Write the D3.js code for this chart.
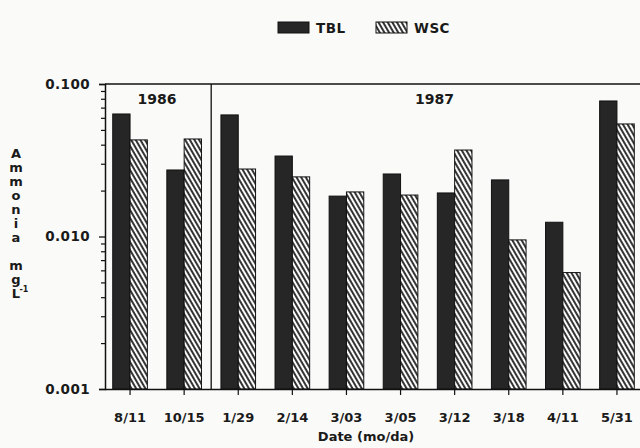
<!DOCTYPE html>
<html>
<head>
<meta charset="utf-8">
<script src="https://cdn.jsdelivr.net/npm/d3@7"></script>
<style>
  body { margin: 0; background: #fafaf8; }
  svg { display: block; }
  text { font-family: "DejaVu Sans", Verdana, sans-serif; font-weight: bold; fill: #1a1a1a; }
</style>
</head>
<body>
<svg id="chart" width="640" height="448"></svg>
<script>
// Sampling dates (mo/da) and the year each belongs to
const dates = ["8/11", "10/15", "1/29", "2/14", "3/03", "3/05", "3/12", "3/18", "4/11", "5/31"];
const years = ["1986", "1986", "1987", "1987", "1987", "1987", "1987", "1987", "1987", "1987"];
const seriesNames = ["TBL", "WSC"];
// Ammonia, mg per litre
const tblValues = [0.0636, 0.0273, 0.0627, 0.0337, 0.0184, 0.0257, 0.0193, 0.0235, 0.0124, 0.0774];
const wscValues = [0.0430, 0.0436, 0.0277, 0.0246, 0.0196, 0.0187, 0.0369, 0.0095, 0.0058, 0.0547];
const yTickValues = [0.001, 0.010, 0.100];
const yTitleLetters = ["A", "m", "m", "o", "n", "i", "a", "", "m", "g", "L"];

const svg = d3.select("#chart");
const margin = { left: 105, top: 84, bottom: 389, right: 644 };
const frameRight = 658;

const x = d3.scaleBand().domain(dates).range([103, margin.right])
  .paddingInner(0.36).paddingOuter(0.18);
const xs = d3.scaleBand().domain(seriesNames).range([0, x.bandwidth()]);
const y = d3.scaleLog().domain([0.001, 0.1]).range([margin.bottom, margin.top]);

// Hatch pattern for WSC
const defs = svg.append("defs");
const pat = defs.append("pattern").attr("id", "hatch")
  .attr("patternUnits", "userSpaceOnUse").attr("width", 4).attr("height", 10)
  .attr("patternTransform", "rotate(-30)");
pat.append("rect").attr("width", 4).attr("height", 10).attr("fill", "#fbfbfa");
pat.append("line").attr("x1", 2).attr("x2", 2).attr("y1", -1).attr("y2", 11)
  .attr("stroke", "#111").attr("stroke-width", 1.7);

const fills = { TBL: "#262626", WSC: "url(#hatch)" };

// Bars
const rows = dates.map((d, i) => ({ date: d, TBL: tblValues[i], WSC: wscValues[i] }));
const groups = svg.append("g").selectAll("g").data(rows).join("g")
  .attr("transform", d => `translate(${x(d.date)},0)`);
groups.selectAll("rect").data(d => seriesNames.map(s => ({ s, v: d[s] }))).join("rect")
  .attr("x", d => xs(d.s))
  .attr("width", xs.bandwidth())
  .attr("y", d => y(d.v))
  .attr("height", d => y(0.001) - y(d.v))
  .attr("fill", d => fills[d.s])
  .attr("stroke", "#111").attr("stroke-width", 1);

// Frame: top line
svg.append("line").attr("x1", margin.left).attr("x2", frameRight)
  .attr("y1", y(0.1)).attr("y2", y(0.1)).attr("stroke", "#111").attr("stroke-width", 1.5);

// Year divider
const divX = (x(dates[1]) + x.bandwidth() + x(dates[2])) / 2;
svg.append("line").attr("x1", divX).attr("x2", divX)
  .attr("y1", y(0.1)).attr("y2", y(0.001)).attr("stroke", "#111").attr("stroke-width", 1.3);

// Year labels
svg.append("text").attr("x", (103 + divX) / 2).attr("y", 104).attr("text-anchor", "middle")
  .attr("font-size", 14).text(years[0]);
svg.append("text").attr("x", (divX + frameRight) / 2).attr("y", 104).attr("text-anchor", "middle")
  .attr("font-size", 14).text(years[2]);

// Y axis: minor ticks, then major ticks with labels
const minorTicks = y.ticks().filter(v => !yTickValues.some(t => Math.abs(t - v) < 1e-9));
svg.append("g").attr("transform", `translate(${margin.left},0)`)
  .call(d3.axisLeft(y).tickValues(minorTicks).tickSize(4).tickFormat(""))
  .call(g => g.select(".domain").remove())
  .call(g => g.selectAll("line").attr("stroke", "#111").attr("stroke-width", 1.2));
svg.append("g").attr("transform", `translate(${margin.left},0)`)
  .call(d3.axisLeft(y).tickValues(yTickValues).tickSize(6).tickPadding(9).tickFormat(d3.format(".3f")))
  .call(g => g.select(".domain").attr("stroke", "#111").attr("stroke-width", 1.5))
  .call(g => g.selectAll("line").attr("stroke", "#111").attr("stroke-width", 1.3))
  .call(g => g.selectAll("text").attr("font-size", 13.5).attr("letter-spacing", 0.4)
    .attr("font-family", null).attr("fill", "#1a1a1a"));

// X axis
svg.append("g").attr("transform", `translate(0,${margin.bottom})`)
  .call(d3.axisBottom(x).tickSize(6).tickPadding(18).tickSizeOuter(0))
  .call(g => g.select(".domain").attr("d", `M${margin.left},0.5H${frameRight}`)
    .attr("stroke", "#111").attr("stroke-width", 1.5))
  .call(g => g.selectAll("line").attr("stroke", "#111").attr("stroke-width", 1.2))
  .call(g => g.selectAll("text").attr("font-size", 13).attr("font-family", null).attr("fill", "#1a1a1a"));

// X axis title
svg.append("text").attr("x", 366).attr("y", 441).attr("text-anchor", "middle")
  .attr("font-size", 13).text("Date (mo/da)");

// Y axis title, stacked letters
const yt = svg.append("g");
yTitleLetters.forEach((ch, i) => {
  if (!ch) return;
  yt.append("text").attr("x", 16).attr("y", 158 + i * 14).attr("text-anchor", "middle")
    .attr("font-size", 13).text(ch);
});
yt.append("text").attr("x", 24).attr("y", 158 + (yTitleLetters.length - 1) * 14 - 6)
  .attr("text-anchor", "middle").attr("font-size", 8).text("-1");

// Legend
const legend = svg.append("g").attr("transform", "translate(278,22)");
const legendX = d3.scaleOrdinal().domain(seriesNames).range([0, 98]);
seriesNames.forEach(s => {
  const g = legend.append("g").attr("transform", `translate(${legendX(s)},0)`);
  g.append("rect").attr("width", 31).attr("height", 11)
    .attr("fill", fills[s]).attr("stroke", "#111").attr("stroke-width", 1);
  g.append("text").attr("x", 38).attr("y", 11).attr("font-size", 13.5).attr("letter-spacing", 0.5).text(s);
});
</script>
</body>
</html>
